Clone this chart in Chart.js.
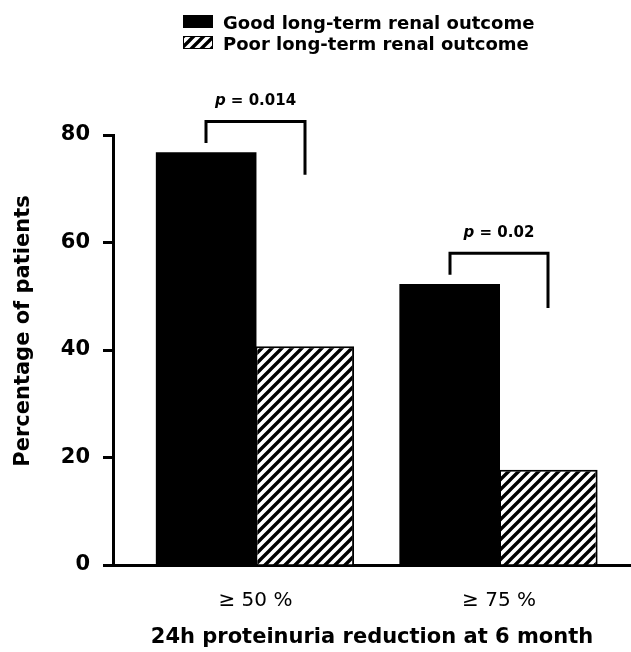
<!DOCTYPE html>
<html><head><meta charset="utf-8">
<script src="https://cdn.jsdelivr.net/npm/chart.js@4/dist/chart.umd.min.js"></script>
<style>html,body{margin:0;padding:0;background:#fff;}</style>
</head><body>
<canvas id="c" width="631" height="652"></canvas>
<script>
// ---- data ----
const categories = ['≥ 50 %', '≥ 75 %'];
const seriesNames = ['Good long-term renal outcome', 'Poor long-term renal outcome'];
const goodValues = [76.6, 52.1];
const poorValues = [40.7, 17.7];
const yTickValues = [0, 20, 40, 60, 80];
const pValues = ['0.014', '0.02'];
const bracketTop = [82.5, 58.0];
const bracketGoodEnd = [78.5, 54.0];
const bracketPoorEnd = [72.6, 47.8];
const yTitle = 'Percentage of patients';
const xTitle = '24h proteinuria reduction at 6 month';

const FONT = "'DejaVu Sans', sans-serif";

function makeHatch() {
  const c = document.createElement('canvas');
  c.width = 10; c.height = 10;
  const g = c.getContext('2d');
  g.fillStyle = '#fff'; g.fillRect(0, 0, 10, 10);
  g.strokeStyle = '#000'; g.lineWidth = 3.4;
  g.beginPath();
  for (const o of [-10, 0, 10]) { g.moveTo(o - 3, 13); g.lineTo(o + 13, -3); }
  g.stroke();
  return g.createPattern(c, 'repeat');
}
const hatch = makeHatch();

const legendPlugin = {
  id: 'customLegend',
  afterDraw(chart) {
    const ctx = chart.ctx;
    ctx.save();
    const fills = ['#000', hatch];
    const rows = [15, 36];
    for (let i = 0; i < 2; i++) {
      ctx.fillStyle = fills[i];
      ctx.fillRect(183, rows[i], 30, 13);
      if (i === 1) { ctx.strokeStyle = '#000'; ctx.lineWidth = 1; ctx.strokeRect(183.5, rows[i] + 0.5, 29, 12); }
      ctx.fillStyle = '#000';
      ctx.font = "bold 18px " + FONT;
      ctx.textAlign = 'left'; ctx.textBaseline = 'alphabetic';
      ctx.fillText(seriesNames[i], 223, rows[i] + 14);
    }
    // y axis title
    ctx.translate(29, 331);
    ctx.rotate(-Math.PI / 2);
    ctx.font = "bold 21px " + FONT;
    ctx.textAlign = 'center';
    ctx.fillText(yTitle, 0, 0);
    ctx.restore();
  }
};

const bracketPlugin = {
  id: 'brackets',
  afterDatasetsDraw(chart) {
    const ctx = chart.ctx, y = chart.scales.y;
    const m0 = chart.getDatasetMeta(0), m1 = chart.getDatasetMeta(1);
    ctx.save();
    ctx.strokeStyle = '#000'; ctx.lineWidth = 3; ctx.lineJoin = 'miter';
    for (let i = 0; i < categories.length; i++) {
      const xl = Math.round(m0.data[i].x), xr = Math.round(m1.data[i].x);
      const yt = y.getPixelForValue(bracketTop[i]);
      ctx.beginPath();
      ctx.moveTo(xl, y.getPixelForValue(bracketGoodEnd[i]));
      ctx.lineTo(xl, yt);
      ctx.lineTo(xr, yt);
      ctx.lineTo(xr, y.getPixelForValue(bracketPoorEnd[i]));
      ctx.stroke();
      const fItal = "italic bold 15px " + FONT, fBold = "bold 15px " + FONT;
      const rest = ' = ' + pValues[i];
      ctx.font = fItal; const w1 = ctx.measureText('p').width;
      ctx.font = fBold; const w2 = ctx.measureText(rest).width;
      const x0 = (xl + xr) / 2 - (w1 + w2) / 2, by = yt - 16.5;
      ctx.fillStyle = '#000'; ctx.textAlign = 'left'; ctx.textBaseline = 'alphabetic';
      ctx.font = fItal; ctx.fillText('p', x0, by);
      ctx.font = fBold; ctx.fillText(rest, x0 + w1, by);
    }
    ctx.restore();
  }
};

const toPoints = vals => vals.map((v, i) => ({ x: i, y: v }));

new Chart(document.getElementById('c'), {
  type: 'bar',
  data: {
    datasets: [
      { label: seriesNames[0], data: toPoints(goodValues), backgroundColor: '#000', borderWidth: 0, inflateAmount: 1 },
      { label: seriesNames[1], data: toPoints(poorValues), backgroundColor: hatch, borderColor: '#000', borderWidth: 2 }
    ]
  },
  options: {
    responsive: false,
    devicePixelRatio: 1,
    animation: false,
    categoryPercentage: 0.81,
    barPercentage: 1,
    layout: { padding: { top: 135, left: 0, right: 0, bottom: 0 } },
    plugins: { legend: { display: false }, tooltip: { enabled: false } },
    scales: {
      x: {
        type: 'linear',
        min: -0.585, max: 1.542,
        offset: false,
        afterFit: s => { s.height = 87; },
        afterBuildTicks: s => { s.ticks = categories.map((_, i) => ({ value: i })); },
        grid: { display: false, drawTicks: false, offset: false },
        border: { display: true, color: '#000', width: 3 },
        ticks: {
          color: '#000', padding: 24, maxRotation: 0,
          font: { family: FONT, size: 20 },
          callback: v => categories[v]
        },
        title: {
          display: true, text: xTitle, color: '#000',
          font: { family: FONT, size: 21, weight: 'bold' },
          padding: { top: 0, bottom: 2 }
        }
      },
      y: {
        min: 0, max: 80,
        afterFit: s => { s.width = 113; },
        afterBuildTicks: s => { s.ticks = yTickValues.map(v => ({ value: v })); },
        grid: { display: true, drawOnChartArea: false, drawTicks: true, tickLength: 10, tickWidth: 3, tickColor: '#000' },
        border: { display: true, color: '#000', width: 3 },
        ticks: { color: '#000', padding: 13, font: { family: FONT, size: 21, weight: 'bold' } }
      }
    }
  },
  plugins: [bracketPlugin, legendPlugin]
});
</script>
</body></html>
